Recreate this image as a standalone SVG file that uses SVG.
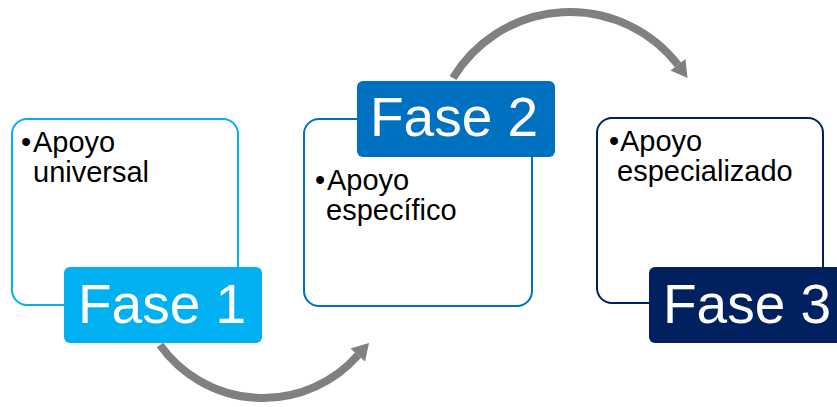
<svg xmlns="http://www.w3.org/2000/svg" width="837" height="407" viewBox="0 0 837 407">
<style>
.box{fill:#FFFFFF;stroke-width:2}
.lbl{font-family:"Liberation Sans",Arial,sans-serif;font-size:55px;fill:#FFFFFF}
.txt{font-family:"Liberation Sans",Arial,sans-serif;font-size:29px;fill:#000000}
.arc{fill:none;stroke:#808080;stroke-width:8}
.head{fill:#808080}
</style>
<rect width="837" height="407" fill="#FFFFFF"/>
<g id="connectors">
<path class="arc" d="M160,345 A126.6,126.6 0 0 0 358,355.1"/>
<polygon class="head" points="369,343 365,361.5 350.5,348.5"/>
<path class="arc" d="M453,78 A136.7,136.7 0 0 1 678,64.9"/>
<polygon class="head" points="687.5,78 685.5,59 670.5,70.5"/>
</g>
<g id="fase1">
<rect class="box" x="12" y="119" width="226" height="186" rx="15" stroke="#00B0F0"/>
<text class="txt"><tspan x="21" y="152">•</tspan><tspan x="33" y="152">Apoyo</tspan><tspan x="33" y="182">universal</tspan></text>
<rect x="64" y="267" width="198" height="76" rx="6" fill="#00B0F0"/>
<text class="lbl" x="78" y="323">Fase 1</text>
</g>
<g id="fase2">
<rect class="box" x="304" y="119" width="228" height="187" rx="15" stroke="#0070C0"/>
<text class="txt"><tspan x="315" y="190">•</tspan><tspan x="327" y="190">Apoyo</tspan><tspan x="326" y="220">específico</tspan></text>
<rect x="357" y="81" width="198" height="76" rx="6" fill="#0070C0"/>
<text class="lbl" x="370" y="136">Fase 2</text>
</g>
<g id="fase3">
<rect class="box" x="597" y="118" width="226" height="185" rx="15" stroke="#002060"/>
<text class="txt"><tspan x="609" y="151">•</tspan><tspan x="620" y="151">Apoyo</tspan><tspan x="617" y="181">especializado</tspan></text>
<rect x="649" y="267" width="198" height="76" rx="6" fill="#002060"/>
<text class="lbl" x="663" y="323">Fase 3</text>
</g>
</svg>
